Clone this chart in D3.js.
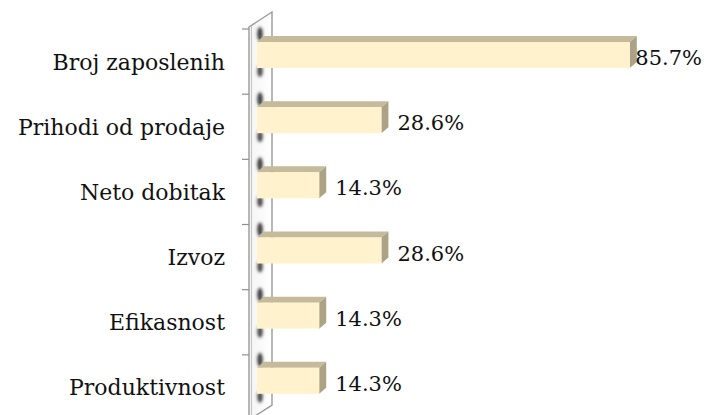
<!DOCTYPE html>
<html>
<head>
<meta charset="utf-8">
<script src="https://cdn.jsdelivr.net/npm/d3@7"></script>
<style>
html,body{margin:0;padding:0;background:#fff;}
svg{display:block;}
text{font-family:"DejaVu Serif","Liberation Serif",serif;fill:#111;}
</style>
</head>
<body>
<svg id="chart" width="709" height="415"></svg>
<script>
const categories = ["Broj zaposlenih","Prihodi od prodaje","Neto dobitak","Izvoz","Efikasnost","Produktivnost"];
const values = [85.7, 28.6, 14.3, 28.6, 14.3, 14.3];
const valueLabels = ["85.7%","28.6%","14.3%","28.6%","14.3%","14.3%"];

const W = 709, H = 415;
const svg = d3.select("#chart");
const defs = svg.append("defs");
defs.append("filter").attr("id","blur").attr("x","-100%").attr("y","-100%").attr("width","300%").attr("height","300%")
  .append("feGaussianBlur").attr("stdDeviation", 1.8);

const wallGrad = defs.append("linearGradient").attr("id","wallg").attr("x1",0).attr("x2",1).attr("y1",0).attr("y2",0);
wallGrad.append("stop").attr("offset","0%").attr("stop-color","#f4f4f4");
wallGrad.append("stop").attr("offset","100%").attr("stop-color","#ffffff");

const y = d3.scaleBand().domain(categories).range([29, 420]).paddingInner(0).paddingOuter(0);
const x = d3.scaleLinear().domain([0, 100]).range([257, 692]);

const dxW = 23, dyW = 15;   // wall depth
const wallX = 249;
const dxB = 7, dyB = 6;     // bar depth
const barOff = 13, barH = 26;

// wall
const wTop = 27, wBot = 420;
svg.append("path")
  .attr("d", `M${wallX},${wTop} L${wallX+dxW},${wTop-dyW} L${wallX+dxW},${wBot-dyW} L${wallX},${wBot} Z`)
  .attr("fill","url(#wallg)").attr("stroke","#9a9a9a").attr("stroke-width",1.4);
svg.append("line").attr("x1", wallX+2.5).attr("x2", wallX+2.5).attr("y1", wTop-1).attr("y2", wBot)
  .attr("stroke","#c4c4c4").attr("stroke-width",1);

// ticks on wall front edge
const tickYs = categories.map(c => y(c)).concat([y.range()[1]]);
svg.append("g").selectAll("line").data(tickYs).join("line")
  .attr("x1", wallX-7).attr("x2", wallX).attr("y1", d=>d).attr("y2", d=>d)
  .attr("stroke","#8f8f8f").attr("stroke-width",1.2);

// shadows on wall
const sh = svg.append("g").attr("filter","url(#blur)");
categories.forEach((c,i) => {
  const top = y(c) + barOff;
  sh.append("ellipse").attr("cx", 260).attr("cy", top - 8).attr("rx", 2.8).attr("ry", 7).attr("fill","#2e2e2e").attr("opacity",0.9);
  sh.append("ellipse").attr("cx", 260).attr("cy", top + barH + 3).attr("rx", 2.8).attr("ry", 6).attr("fill","#2e2e2e").attr("opacity",0.85);
});

// bars
const bars = svg.append("g");
categories.forEach((c,i) => {
  const x0 = x(0), x1 = x(values[i]);
  const t = y(c) + barOff, b = t + barH;
  const g = bars.append("g");
  g.append("path").attr("d", `M${x0},${t} L${x0+dxB},${t-dyB} L${x1+dxB},${t-dyB} L${x1},${t} Z`)
    .attr("fill","#c5bb9b");
  g.append("path").attr("d", `M${x1},${t} L${x1+dxB},${t-dyB} L${x1+dxB},${b-dyB} L${x1},${b} Z`)
    .attr("fill","#aca285");
  g.append("rect").attr("x", x0).attr("y", t).attr("width", x1-x0).attr("height", barH)
    .attr("fill","#fff2cc");
});

// category labels
svg.append("g").selectAll("text").data(categories).join("text")
  .attr("x", 225).attr("y", d => y(d) + y.bandwidth()/2 + 8)
  .attr("text-anchor","end").attr("font-size", 22).text(d => d);

// value labels
const vl = svg.append("g");
categories.forEach((c,i) => {
  const t = y(c) + barOff;
  const txt = vl.append("text").attr("font-size", 21).attr("y", t + 23).text(valueLabels[i]);
  const w = txt.node().getComputedTextLength();
  let xs = x(values[i]) + dxB + 9;
  if (xs + w > W - 7) xs = W - 7 - w;
  txt.attr("x", xs);
});
</script>
</body>
</html>
